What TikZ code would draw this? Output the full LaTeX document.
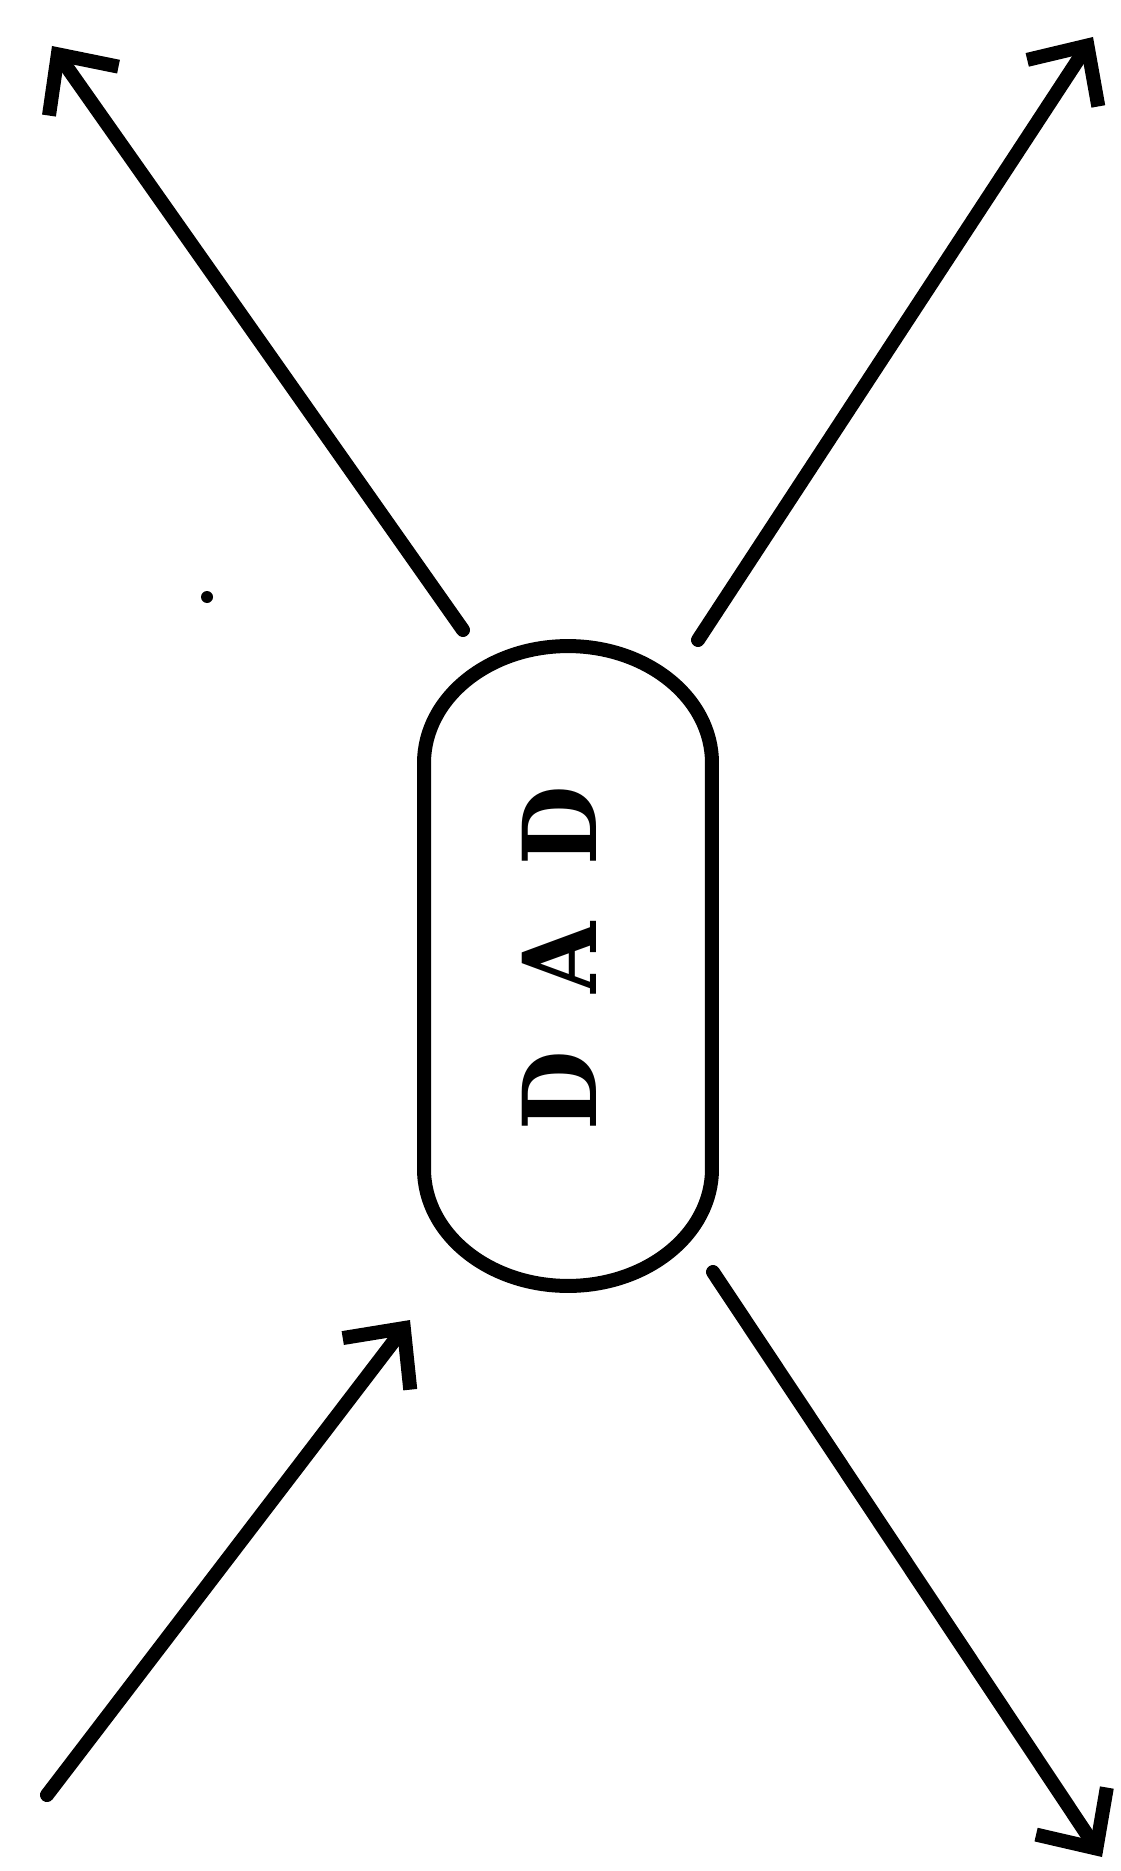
\documentclass[tikz,border=0pt]{standalone}
\usepackage{fontspec}
\usepackage{tikz}
\usetikzlibrary{arrows.meta}
\newfontfamily\dadfont{DejaVu Serif}[BoldFont={DejaVu Serif Bold}]

\begin{document}
\begin{tikzpicture}[x=0.02cm, y=-0.02cm, line width=0.28cm, line cap=round, line join=round,
    pill/.style={rectangle, minimum width=5.76cm, minimum height=12.8cm, inner sep=0pt, outer sep=0pt},
    word/.style={rotate=90, xscale=0.9, inner sep=0pt, font=\dadfont\bfseries\fontsize{58}{62}\selectfont},
    link/.style={-{Straight Barb[length=0.9cm, width=1.7cm]}}]
     \useasboundingbox (0,0) rectangle (1120,1871);

     \node[pill] (dad) at (568,966) {};
     \draw ([yshift=-2.34cm]dad.north west) arc[start angle=180, end angle=0, x radius=2.88cm, y radius=2.34cm]
        -- ([yshift=2.34cm]dad.south east) arc[start angle=0, end angle=-180, x radius=2.88cm, y radius=2.34cm] -- cycle;
     \node[word] (dadtext) at (559,958) {D\hspace{36pt}A\hspace{36pt}D};

     \coordinate (ulstart) at (463,630);
     \coordinate (ulend) at (52,46);
     \coordinate (urstart) at (698,640);
     \coordinate (urend) at (1093,37);
     \coordinate (llstart) at (47,1795);
     \coordinate (llend) at (410,1320);
     \coordinate (lrstart) at (713,1272);
     \coordinate (lrend) at (1102,1857);

     \draw[link] (ulstart) -- (ulend);
     \draw[link] (urstart) -- (urend);
     \draw[link] (llstart) -- (llend);
     \draw[link] (lrstart) -- (lrend);

     \fill (207,597) circle (6);
    \end{tikzpicture}
\end{document}
